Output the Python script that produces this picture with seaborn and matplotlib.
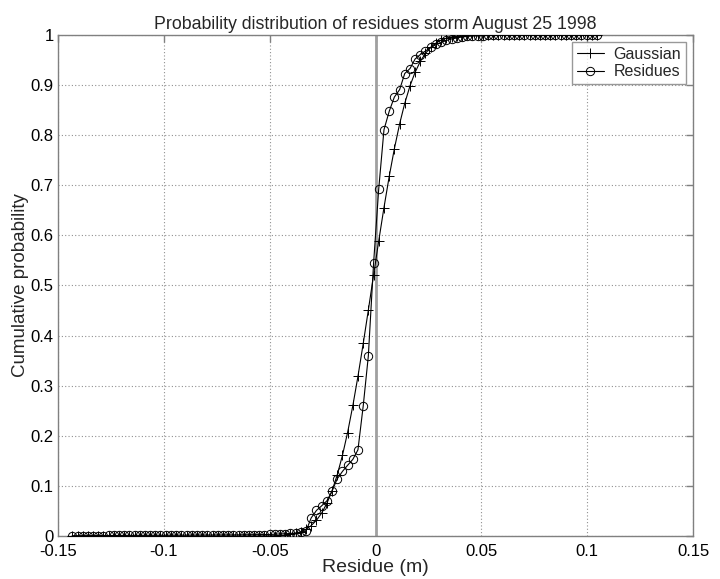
import matplotlib
matplotlib.use("Agg")
import matplotlib.pyplot as plt
import seaborn as sns
import pandas as pd

# residue bins (m)
residue = [
    -0.1433, -0.1408, -0.1384, -0.1359, -0.1335, -0.1310, -0.1286, -0.1261, -0.1237, -0.1212,
    -0.1188, -0.1163, -0.1138, -0.1114, -0.1089, -0.1065, -0.1040, -0.1016, -0.0991, -0.0967,
    -0.0942, -0.0917, -0.0893, -0.0868, -0.0844, -0.0819, -0.0795, -0.0770, -0.0746, -0.0721,
    -0.0697, -0.0672, -0.0647, -0.0623, -0.0598, -0.0574, -0.0549, -0.0525, -0.0500, -0.0476,
    -0.0451, -0.0426, -0.0402, -0.0377, -0.0353, -0.0328, -0.0304, -0.0279, -0.0255, -0.0230,
    -0.0206, -0.0181, -0.0156, -0.0132, -0.0107, -0.0083, -0.0058, -0.0034, -0.0009, 0.0015,
    0.0040, 0.0065, 0.0089, 0.0114, 0.0138, 0.0163, 0.0187, 0.0212, 0.0236, 0.0261,
    0.0286, 0.0310, 0.0335, 0.0359, 0.0384, 0.0408, 0.0433, 0.0457, 0.0482, 0.0507,
    0.0531, 0.0556, 0.0580, 0.0605, 0.0629, 0.0654, 0.0678, 0.0703, 0.0728, 0.0752,
    0.0777, 0.0801, 0.0826, 0.0850, 0.0875, 0.0899, 0.0924, 0.0948, 0.0973, 0.0998,
    0.1022, 0.1047,
]

gaussian = [
    0.0, 0.0, 0.0, 0.0, 0.0, 0.0, 0.0, 0.0, 0.0, 0.0,
    0.0, 0.0, 0.0, 0.0, 0.0, 0.0, 0.0, 0.0, 0.0, 0.0,
    0.0, 0.0, 0.0, 0.0, 0.0, 0.0, 0.0, 0.0, 0.0, 0.0,
    0.0, 0.0, 0.0, 0.0, 0.0001, 0.0001, 0.0001, 0.0002, 0.0003, 0.0006,
    0.0010, 0.0018, 0.0031, 0.0053, 0.0085, 0.0136, 0.0207, 0.0313, 0.0454, 0.0650,
    0.0895, 0.1217, 0.1613, 0.2064, 0.2605, 0.3186, 0.3844, 0.4506, 0.5212, 0.5884,
    0.6556, 0.7184, 0.7728, 0.8227, 0.8634, 0.8985, 0.9255, 0.9475, 0.9633, 0.9755,
    0.9840, 0.9897, 0.9937, 0.9961, 0.9977, 0.9987, 0.9993, 0.9996, 0.9998, 0.9999,
    0.9999, 1.0, 1.0, 1.0, 1.0, 1.0, 1.0, 1.0, 1.0, 1.0,
    1.0, 1.0, 1.0, 1.0, 1.0, 1.0, 1.0, 1.0, 1.0, 1.0,
    1.0, 1.0,
]

residues = [
    0.0003, 0.0004, 0.0005, 0.0006, 0.0007, 0.0008, 0.0009, 0.0010, 0.0010, 0.0011,
    0.0012, 0.0012, 0.0013, 0.0013, 0.0014, 0.0014, 0.0015, 0.0015, 0.0016, 0.0016,
    0.0017, 0.0017, 0.0018, 0.0018, 0.0019, 0.0019, 0.0020, 0.0020, 0.0021, 0.0021,
    0.0022, 0.0022, 0.0023, 0.0024, 0.0025, 0.0026, 0.0027, 0.0028, 0.0030, 0.0035,
    0.0040, 0.0045, 0.0050, 0.0060, 0.0075, 0.0100, 0.0360, 0.0510, 0.0600, 0.0700,
    0.0890, 0.1140, 0.1290, 0.1410, 0.1530, 0.1720, 0.2600, 0.3590, 0.5450, 0.6920,
    0.8110, 0.8480, 0.8760, 0.8910, 0.9230, 0.9330, 0.9520, 0.9610, 0.9680, 0.9750,
    0.9810, 0.9850, 0.9890, 0.9920, 0.9940, 0.9960, 0.9970, 0.9980, 0.9980, 0.9985,
    0.9990, 0.9990, 0.9992, 0.9993, 0.9994, 0.9995, 0.9996, 0.9997, 0.9997, 0.9998,
    0.9998, 0.9998, 0.9999, 0.9999, 0.9999, 0.9999, 1.0, 1.0, 1.0, 1.0,
    1.0, 1.0,
]

xticks = [-0.15, -0.1, -0.05, 0, 0.05, 0.1, 0.15]
xticklabels = ["-0.15", "-0.1", "-0.05", "0", "0.05", "0.1", "0.15"]
yticks = [0, 0.1, 0.2, 0.3, 0.4, 0.5, 0.6, 0.7, 0.8, 0.9, 1]
yticklabels = ["0", "0.1", "0.2", "0.3", "0.4", "0.5", "0.6", "0.7", "0.8", "0.9", "1"]

sns.set_style("white")
plt.rcParams["font.family"] = ["Liberation Sans", "DejaVu Sans"]

df = pd.DataFrame({"x": residue, "Gaussian": gaussian, "Residues": residues})

fig = plt.figure(figsize=(7.2, 5.79), dpi=100)
ax = fig.add_axes([0.0806, 0.0743, 0.8819, 0.8653])

axis_grey = "#808080"

# vertical line at zero
ax.axvline(0, color="#a0a0a0", lw=2.0, zorder=1)

sns.lineplot(data=df, x="x", y="Gaussian", ax=ax, color="k", lw=0.8,
             marker="+", markersize=7, markeredgecolor="k", markeredgewidth=0.7,
             label="Gaussian", sort=False, estimator=None, zorder=3)
sns.lineplot(data=df, x="x", y="Residues", ax=ax, color="k", lw=0.8,
             marker="o", markersize=6, markerfacecolor="none",
             markeredgecolor="k", markeredgewidth=0.7, label="Residues",
             sort=False, estimator=None, zorder=3)

ax.set_xlim(-0.15, 0.15)
ax.set_ylim(0, 1)
ax.set_xticks(xticks)
ax.set_xticklabels(xticklabels)
ax.set_yticks(yticks)
ax.set_yticklabels(yticklabels)

ax.grid(True, color="#909090", linestyle=(0, (1, 2)), lw=0.8)
ax.set_axisbelow(True)

for sp in ax.spines.values():
    sp.set_visible(True)
    sp.set_color(axis_grey)
    sp.set_linewidth(1.0)

ax.tick_params(direction="in", length=5, width=1, color=axis_grey,
               top=True, right=True, labelsize=12, labelcolor="black")
ax.tick_params(axis="x", pad=6)
ax.tick_params(axis="y", pad=3)

ax.set_xlabel("Residue (m)", fontsize=14, labelpad=0)
ax.set_ylabel("Cumulative probability", fontsize=13.5, labelpad=1)
ax.set_title("Probability distribution of residues storm August 25 1998",
             fontsize=12.8, pad=4)

leg = ax.legend(loc="upper right", fontsize=11.5, frameon=True, fancybox=False,
                borderaxespad=0.45, handlelength=1.7, borderpad=0.3,
                labelspacing=0.15, handletextpad=0.6)
leg.get_frame().set_edgecolor(axis_grey)
leg.get_frame().set_linewidth(1.0)

fig.savefig("out.png", dpi=100)
